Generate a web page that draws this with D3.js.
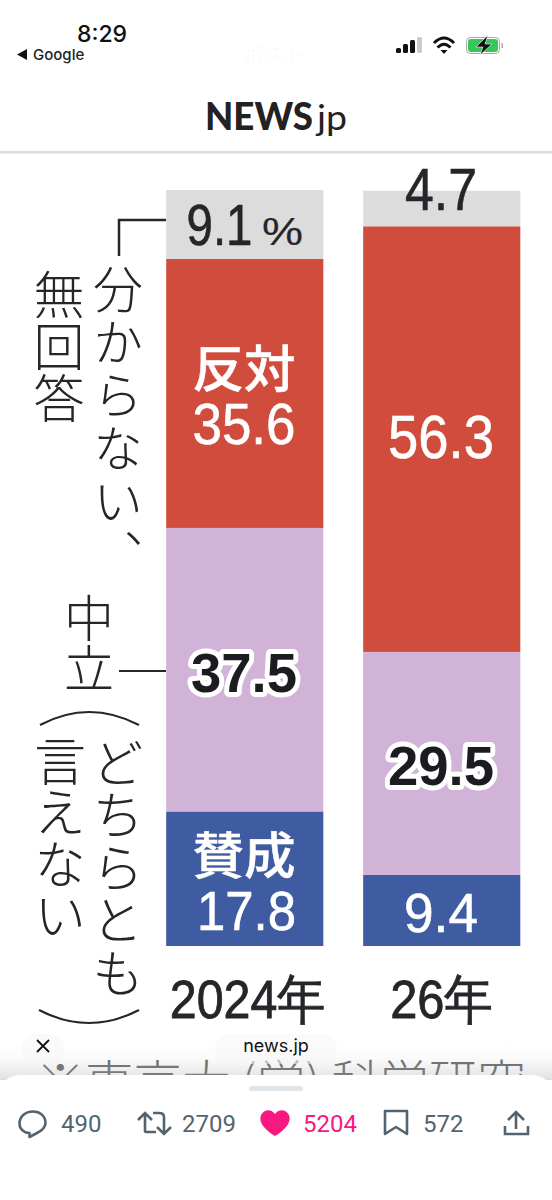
<!DOCTYPE html>
<html><head><meta charset="utf-8">
<script src="https://cdnjs.cloudflare.com/ajax/libs/d3/7.8.5/d3.min.js"></script>
<style>html,body{margin:0;padding:0;background:#fff;width:552px;height:1200px;overflow:hidden}svg{display:block}
text{font-family:"Liberation Sans",Arial,sans-serif}
.jp{font-family:"Noto Sans CJK JP",sans-serif;font-weight:300}
</style></head><body><div id="c"></div>
<script>
const years=["2024年","26年"];
const keys=["support","neutral","oppose","unknown"];
const support=[17.8,9.4];
const neutral=[37.5,29.5];
const oppose=[35.6,56.3];
const unknown=[9.1,4.7];
const colors=["#3f5ca3","#d0b3d6","#d04c3c","#dcdcdc"];
const stats=[["490","#536471"],["2709","#536471"],["5204","#f91880"],["572","#536471"]];

const rows=years.map((y,i)=>({year:y,support:support[i],neutral:neutral[i],oppose:oppose[i],unknown:unknown[i]}));
const svg=d3.select("#c").append("svg").attr("width",552).attr("height",1200).attr("viewBox","0 0 552 1200");
const ink="#26262a";

const defs=svg.append("defs");
const g1=defs.append("linearGradient").attr("id","fade").attr("x1",0).attr("x2",0).attr("y1",0).attr("y2",1);
g1.append("stop").attr("offset",0).attr("stop-color","#fff").attr("stop-opacity",0);
g1.append("stop").attr("offset",.45).attr("stop-color","#f2f2f2").attr("stop-opacity",.35);
g1.append("stop").attr("offset",1).attr("stop-color","#c4c4c6").attr("stop-opacity",.55);

// header
svg.append("text").attr("x",77).attr("y",42).attr("font-size",23).attr("fill","#111").attr("style",'font-family:"Inter"').attr("font-weight",500).text("8:29");
svg.append("path").attr("d","M17 54.5 L27 49 L27 60Z").attr("fill","#111");
svg.append("text").attr("x",33).attr("y",60).attr("font-size",15).attr("fill","#222").attr("style",'font-family:"Inter"').attr("font-weight",500).text("Google");
svg.append("text").attr("x",274).attr("y",62).attr("text-anchor","middle").attr("font-size",20).attr("fill","#f9f9f9").attr("class","jp").text("ポスト");
// signal
[[396,5],[403,9],[410,13]].forEach(([x,h])=>svg.append("rect").attr("x",x).attr("y",53-h).attr("width",5).attr("height",h).attr("rx",1.5).attr("fill","#111"));
svg.append("rect").attr("x",417).attr("y",37).attr("width",5).attr("height",16).attr("rx",1.5).attr("fill","#ccc");
// wifi
svg.append("path").attr("d","M434 43 Q444 33 454 43 M437.5 47.5 Q444 41 450.5 47.5").attr("fill","none").attr("stroke","#111").attr("stroke-width",3);
svg.append("path").attr("d","M440.5 50 L447.5 50 L444 54Z").attr("fill","#111");
// battery
svg.append("rect").attr("x",466.5).attr("y",37.5).attr("width",33).attr("height",16).attr("rx",4).attr("fill","#fff").attr("stroke","#a8a8a8");
svg.append("rect").attr("x",468).attr("y",39).attr("width",30).attr("height",13).attr("rx",3).attr("fill","#35c759");
svg.append("rect").attr("x",501.5).attr("y",43).attr("width",1.5).attr("height",5).attr("fill","#aaa");
svg.append("path").attr("d","M488 35 L476 47 L483 47 L480 55 L492 44 L485 44Z").attr("fill","#111").attr("stroke","#fff").attr("stroke-width",.6);

svg.append("text").attr("x",205).attr("y",130).attr("font-size",37).attr("font-weight",900).attr("fill","#222").attr("style",'font-family:"Lato"').attr("textLength",108).attr("lengthAdjust","spacingAndGlyphs").text("NEWS");
svg.append("text").attr("x",317).attr("y",130).attr("font-size",34).attr("fill","#222").attr("style",'font-family:"Lato"').attr("font-weight",400).attr("textLength",30).attr("lengthAdjust","spacingAndGlyphs").text("jp");
svg.append("rect").attr("x",0).attr("y",151).attr("width",552).attr("height",2.5).attr("fill","#dcdcdc");

// chart
const x=d3.scaleBand().domain(years).range([146.5,540]).paddingInner(0.2022).paddingOuter(0.1);
const y=d3.scaleLinear().domain([0,100]).range([946,190]);
const series=d3.stack().keys(keys)(rows);
const groups=svg.append("g").selectAll("g").data(series).join("g").attr("fill",(d,i)=>colors[i]);
groups.selectAll("rect").data(d=>d).join("rect")
 .attr("x",d=>x(d.data.year)).attr("width",x.bandwidth())
 .attr("y",d=>y(d[1])).attr("height",d=>y(d[0])-y(d[1]));

// value labels
function num(t,xx,yy,size,fill,w,opts={}){
  const n=svg.append("text").attr("x",xx).attr("y",yy).attr("font-size",size).attr("fill",fill).attr("text-anchor","middle").attr("font-weight",opts.weight||400).attr("style",'font-family:"Liberation Sans"');
  if(opts.halo){n.attr("stroke","#fff").attr("stroke-width",opts.halo).attr("stroke-linejoin","round").attr("paint-order","stroke");}
  else {n.attr("stroke",fill).attr("stroke-width",opts.sw==null?.6:opts.sw);}
  if(w){n.attr("textLength",w).attr("lengthAdjust","spacingAndGlyphs");}
  n.text(t);return n;
}
function jp(t,xx,yy,size,fill,w,weight){
  const n=svg.append("text").attr("x",xx).attr("y",yy).attr("font-size",size).attr("fill",fill).attr("text-anchor","middle").attr("stroke",fill).attr("stroke-width",.5).attr("style",'font-family:"Noto Sans CJK JP";font-weight:'+weight);
  if(w){n.attr("textLength",w).attr("lengthAdjust","spacingAndGlyphs");}
  n.text(t);return n;
}
num(unknown[0].toFixed(1),219.5,245,58,ink,66);
num("%",282.5,245,38,ink,41,{sw:.2});
num(unknown[1].toFixed(1),441,210,60,ink,72);
jp("反対",244,387,50,"#fff",103,500);
num(oppose[0].toFixed(1),244,444,57,"#fff",103);
num(oppose[1].toFixed(1),441,458,62,"#fff",106);
num(neutral[0].toFixed(1),244,692,56,"#1c1c20",106,{halo:10,weight:700});
num(neutral[1].toFixed(1),441,785,56,"#1c1c20",106,{halo:10,weight:700});
jp("賛成",244,874,50,"#fff",103,500);
num(support[0].toFixed(1),246.5,930,56,"#fff",99);
num(support[1].toFixed(1),441,932,56,"#fff",74);

// axis
const ax=svg.append("g").attr("transform","translate(0,946)").call(d3.axisBottom(x).tickSize(0).tickPadding(0));
ax.select(".domain").remove();
ax.selectAll("text").attr("y",72).attr("dy",0).attr("font-size",54).attr("fill",ink).attr("stroke",ink).attr("stroke-width",.8).attr("style",'font-family:"Liberation Sans"')
  .attr("dx",(d,i)=>i?0:3).attr("textLength",(d,i)=>i?103:156).attr("lengthAdjust","spacingAndGlyphs");

// vertical annotations
function vt(t,xx,yy,size,sp){
  svg.append("text").attr("class","jp").attr("x",xx).attr("y",yy).attr("font-size",size).attr("fill",ink)
   .attr("style",'writing-mode:vertical-rl;letter-spacing:'+(sp||0)+'px').text(t);
}
vt("分からない、",118,264,50,3);
vt("無回答",59,269,51,1);
vt("中立",89,593,50,0);
vt("どちらとも",118,737,52,0.5);
vt("言えない",60,735,52,-0.5);
const ln=d3.line();
svg.append("path").attr("d",ln([[166,220],[119,220],[119,256]])).attr("fill","none").attr("stroke",ink).attr("stroke-width",2.5);
svg.append("path").attr("d",ln([[119,671],[166,671]])).attr("fill","none").attr("stroke",ink).attr("stroke-width",2);
svg.append("path").attr("d","M40 725 Q89 699 139 725").attr("fill","none").attr("stroke",ink).attr("stroke-width",2);
svg.append("path").attr("d","M39 1010 Q89 1036 139 1010").attr("fill","none").attr("stroke",ink).attr("stroke-width",2);

// overlay
svg.append("text").attr("class","jp").attr("x",36).attr("y",1098).attr("font-size",46).attr("fill",ink).attr("textLength",490).attr("lengthAdjust","spacingAndGlyphs").text("※東京大 (学) 科学研究");
svg.append("rect").attr("x",0).attr("y",1040).attr("width",552).attr("height",40).attr("fill","url(#fade)");
svg.append("rect").attr("x",22).attr("y",1034).attr("width",42).attr("height",30).attr("rx",14).attr("fill","#f6f6f6").attr("opacity",.55);
svg.append("rect").attr("x",215).attr("y",1034).attr("width",122).attr("height",30).attr("rx",14).attr("fill","#f6f6f6").attr("opacity",.55);
svg.append("path").attr("d","M37 1040 L49 1052 M49 1040 L37 1052").attr("stroke","#111").attr("stroke-width",1.8);
svg.append("text").attr("x",276).attr("y",1052).attr("text-anchor","middle").attr("font-size",18).attr("fill","#111").attr("style",'font-family:"Inter"').text("news.jp");
svg.append("path").attr("d","M0 1200 L0 1097 Q0 1075 22 1075 L530 1075 Q552 1075 552 1097 L552 1200Z").attr("fill","#fff");
svg.append("rect").attr("x",249).attr("y",1086).attr("width",54).attr("height",5).attr("rx",2.5).attr("fill","#dfe5e8");

// action bar
const sX=[61,182,303,423];
stats.forEach(([t,c],i)=>svg.append("text").attr("x",sX[i]).attr("y",1132).attr("font-size",24).attr("fill",c).attr("style",'font-family:"Roboto"').text(t));
const g="#536471";
svg.append("path").attr("d","M33 1111.5 C25 1111.5 19.5 1117 19.5 1123.5 C19.5 1129.5 24.5 1133 29.5 1133 L29.5 1133 L29.5 1137 L37 1133 C43 1130 45.5 1127 45.5 1123 C45.5 1116 40 1111.5 33 1111.5Z").attr("fill","none").attr("stroke",g).attr("stroke-width",2.6).attr("stroke-linejoin","round");
svg.append("path").attr("d","M138 1120 L145 1113 L152 1120 M145 1113 L145 1131 Q145 1132 147 1132 L156 1132 M153 1113 L159 1113 Q164 1113 164 1117 L164 1133 M157 1127 L164 1134 L171 1127").attr("fill","none").attr("stroke",g).attr("stroke-width",2.6);
svg.append("path").attr("d","M261 1115 C264 1110 270 1108 275 1114 C280 1108 286 1110 289 1115 C292 1122 285 1130 275 1136 C265 1130 258 1122 261 1115Z").attr("fill","#f91880");
svg.append("path").attr("d","M385 1111 L407 1111 L407 1134 L396 1127 L385 1134Z").attr("fill","none").attr("stroke",g).attr("stroke-width",2.6).attr("stroke-linejoin","round");
svg.append("path").attr("d","M516 1113 L516 1129 M508 1120 L516 1112 L524 1120 M505 1126 L505 1134 L528 1134 L528 1126").attr("fill","none").attr("stroke",g).attr("stroke-width",2.6);
</script></body></html>
